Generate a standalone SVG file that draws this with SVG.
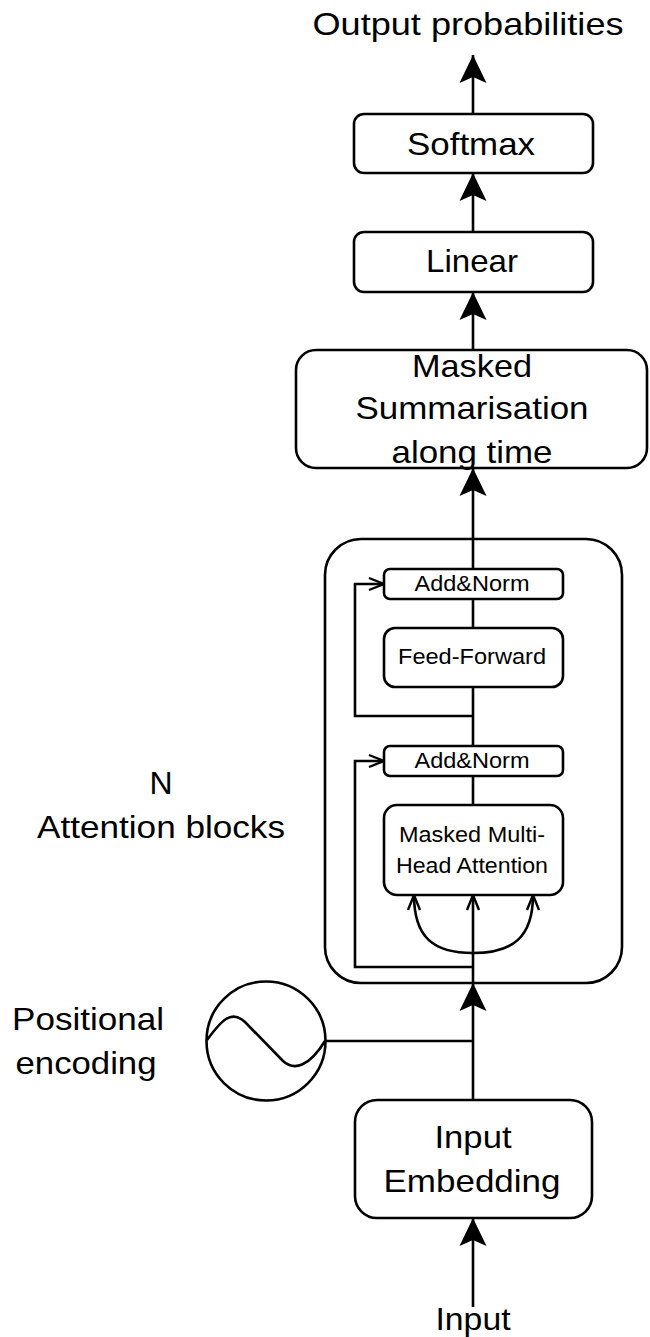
<svg xmlns="http://www.w3.org/2000/svg" width="650" height="1337" viewBox="0 0 650 1337">
  <style>
    .box { fill: #fff; stroke: #000; stroke-width: 2.6; }
    .wire { fill: none; stroke: #000; stroke-width: 2.6; }
    .big { font-family: "Liberation Sans", Arial, Helvetica, sans-serif; font-size: 32px; fill: #000; text-anchor: middle; }
    .small { font-family: "Liberation Sans", Arial, Helvetica, sans-serif; font-size: 22px; fill: #000; text-anchor: middle; }
  </style>
  <defs>
    <!-- solid notched arrowhead for the main data path -->
    <marker id="solid" markerUnits="userSpaceOnUse" viewBox="-30 -16 32 32" refX="0" refY="0" markerWidth="32" markerHeight="32" orient="auto">
      <path d="M0,0 L-28,-13.5 L-22,0 L-28,13.5 Z" fill="#000"/>
    </marker>
    <!-- open chevron arrowhead for residual and attention inputs -->
    <marker id="open" markerUnits="userSpaceOnUse" viewBox="-20 -10 22 20" refX="0" refY="0" markerWidth="22" markerHeight="20" orient="auto">
      <path d="M-15,-6 L0,0 L-15,6" fill="none" stroke="#000" stroke-width="2.4"/>
    </marker>
  </defs>

  <rect width="650" height="1337" fill="#fff"/>

  <!-- outer container for the stacked attention blocks -->
  <g id="attention-stack">
    <rect class="box" x="325" y="539" width="297" height="444" rx="36"/>
  </g>

  <g id="connectors">
    <line class="wire" x1="473" y1="113" x2="473" y2="55" marker-end="url(#solid)"/>
    <line class="wire" x1="473" y1="232" x2="473" y2="173" marker-end="url(#solid)"/>
    <line class="wire" x1="473" y1="350" x2="473" y2="292" marker-end="url(#solid)"/>
    <line class="wire" x1="473" y1="569" x2="473" y2="468" marker-end="url(#solid)"/>
    <line class="wire" x1="473" y1="628" x2="473" y2="599"/>
    <line class="wire" x1="473" y1="746" x2="473" y2="687"/>
    <line class="wire" x1="473" y1="805" x2="473" y2="776"/>
    <!-- residual skip around feed-forward -->
    <path class="wire" d="M473,716 H355 V584 H384" marker-end="url(#open)"/>
    <!-- residual skip around attention -->
    <path class="wire" d="M473,967 H355 V761 H384" marker-end="url(#open)"/>
    <!-- query / key / value inputs -->
    <line class="wire" x1="473" y1="983" x2="473" y2="895" marker-end="url(#open)"/>
    <path class="wire" d="M473,953 C434,953 414,938 414,895" marker-end="url(#open)"/>
    <path class="wire" d="M473,953 C512,953 533,938 533,895" marker-end="url(#open)"/>
    <line class="wire" x1="473" y1="1100" x2="473" y2="983" marker-end="url(#solid)"/>
    <line class="wire" x1="325" y1="1041" x2="473" y2="1041"/>
    <line class="wire" x1="473" y1="1307" x2="473" y2="1218" marker-end="url(#solid)"/>
  </g>

  <g id="output-label">
    <text class="big" x="468" y="35" textLength="311" lengthAdjust="spacingAndGlyphs">Output probabilities</text>
  </g>

  <g id="softmax">
    <rect class="box" x="354" y="114" width="239" height="59" rx="10"/>
    <text class="big" x="471" y="155" textLength="128" lengthAdjust="spacingAndGlyphs">Softmax</text>
  </g>

  <g id="linear">
    <rect class="box" x="354" y="232" width="239" height="60" rx="10"/>
    <text class="big" x="472" y="272" textLength="92" lengthAdjust="spacingAndGlyphs">Linear</text>
  </g>

  <g id="masked-summarisation">
    <rect class="box" x="296" y="350" width="351" height="118" rx="20"/>
    <text class="big" x="472" y="377" textLength="120" lengthAdjust="spacingAndGlyphs">Masked</text>
    <text class="big" x="472" y="419" textLength="233" lengthAdjust="spacingAndGlyphs">Summarisation</text>
    <text class="big" x="472" y="463" textLength="161" lengthAdjust="spacingAndGlyphs">along time</text>
  </g>

  <g id="add-norm-top">
    <rect class="box" x="384" y="569" width="179" height="30" rx="6"/>
    <text class="small" x="472" y="591" textLength="115" lengthAdjust="spacingAndGlyphs">Add&amp;Norm</text>
  </g>

  <g id="feed-forward">
    <rect class="box" x="384" y="628" width="179" height="59" rx="11"/>
    <text class="small" x="472" y="664" textLength="148" lengthAdjust="spacingAndGlyphs">Feed-Forward</text>
  </g>

  <g id="add-norm-bottom">
    <rect class="box" x="384" y="746" width="179" height="30" rx="6"/>
    <text class="small" x="472" y="768" textLength="115" lengthAdjust="spacingAndGlyphs">Add&amp;Norm</text>
  </g>

  <g id="multi-head-attention">
    <rect class="box" x="384" y="805" width="179" height="90" rx="13"/>
    <text class="small" x="472" y="842" textLength="146" lengthAdjust="spacingAndGlyphs">Masked Multi-</text>
    <text class="small" x="472" y="873" textLength="152" lengthAdjust="spacingAndGlyphs">Head Attention</text>
  </g>

  <g id="stack-label">
    <text class="big" x="161" y="794">N</text>
    <text class="big" x="161" y="838" textLength="248" lengthAdjust="spacingAndGlyphs">Attention blocks</text>
  </g>

  <g id="positional-encoding">
    <circle class="box" cx="266" cy="1041" r="59.5"/>
    <path class="wire" d="M207,1040 C221,1021 231,1009 245,1022 L283,1061 C294,1071 309,1067 325,1041"/>
    <text class="big" x="88" y="1030" textLength="152" lengthAdjust="spacingAndGlyphs">Positional</text>
    <text class="big" x="86" y="1074" textLength="141" lengthAdjust="spacingAndGlyphs">encoding</text>
  </g>

  <g id="input-embedding">
    <rect class="box" x="355" y="1100" width="237" height="118" rx="22"/>
    <text class="big" x="473" y="1148" textLength="77" lengthAdjust="spacingAndGlyphs">Input</text>
    <text class="big" x="472" y="1192" textLength="177" lengthAdjust="spacingAndGlyphs">Embedding</text>
  </g>

  <g id="input-label">
    <text class="big" x="473" y="1330" textLength="75" lengthAdjust="spacingAndGlyphs">Input</text>
  </g>
</svg>
